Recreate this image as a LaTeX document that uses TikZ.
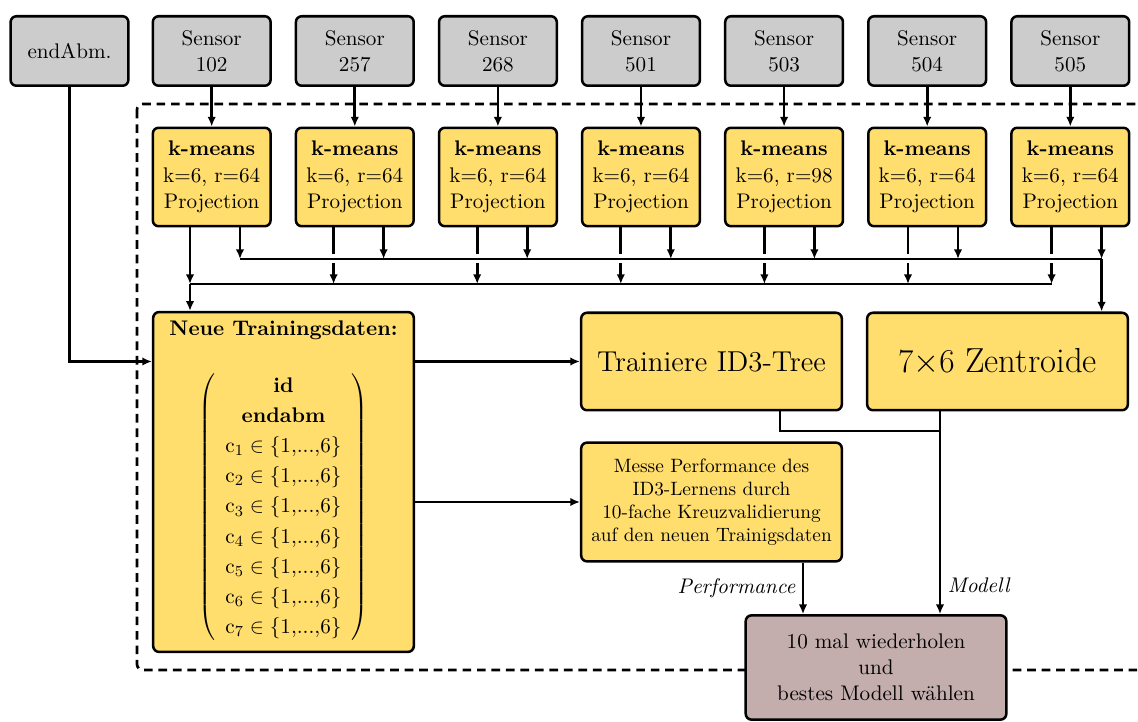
\documentclass[tikz,border=0pt]{standalone}
\usepackage{xcolor}
\usetikzlibrary{arrows.meta,calc}
\definecolor{boxYellow}{HTML}{FFDE6E}
\definecolor{sensorGray}{HTML}{CCCCCC}
\definecolor{loopRose}{HTML}{C4ADAD}
\newcommand{\basesize}{\fontsize{10.95}{13.6}\selectfont}

\begin{document}
\begin{tikzpicture}[
  x=0.518pt, y=-0.518pt,
  box/.style={draw, line width=1.3pt, rounded corners=3pt, align=center, inner sep=2pt, font=\basesize},
  sensorbox/.style={box, fill=sensorGray, minimum width=61pt, minimum height=36pt},
  kmbox/.style={box, fill=boxYellow, minimum width=61pt, minimum height=51pt},
  bigbox/.style={box, fill=boxYellow, minimum width=135pt},
  loopbox/.style={box, fill=loopRose, minimum width=135pt, minimum height=54pt},
  arr/.style={-{Latex[length=5pt,width=4.4pt]}, line width=1.4pt},
  bus/.style={line width=1.4pt},
  frame/.style={line width=1.4pt, dash pattern=on 4.5pt off 3pt, rounded corners=3pt}
]
\useasboundingbox (0,0) rectangle (1138,722);
\draw[frame] (137,104) rectangle (1170,670);

% inputs and clustering
\node[sensorbox] (ea) at (69.5,51) {endAbm.};
\foreach \sid/\rv [count=\i] in {102/64,257/64,268/64,501/64,503/98,504/64,505/64} {
  \pgfmathsetmacro\cx{211.7+143.1*(\i-1)}
  \pgfmathsetmacro\xl{190+143.6*(\i-1)}
  \pgfmathsetmacro\xr{240+143.6*(\i-1)}
  \node[sensorbox] (s\i) at (\cx,51) {Sensor\\\sid};
  \node[kmbox] (k\i) at (\cx,177) {\textbf{k-means}\\k=6, r=\rv\\Projection};
  \coordinate (lb\i) at (\xl,284);
  \coordinate (ub\i) at (\xr,259);
  \coordinate (cr\i) at (\xl,259);
  \draw[arr] (s\i) -- (k\i);
  \draw[arr] (k\i.south -| ub\i) -- (ub\i);
  \ifnum\i=1
    \draw[arr] (k\i.south -| lb\i) -- (lb\i);
  \else
    \draw[bus] (k\i.south -| lb\i) -- ($(cr\i)+(0,-4.5)$);
    \draw[arr] ($(cr\i)+(0,4.5)$) -- (lb\i);
  \fi
}
\draw[bus] (ub1) -- (ub7);
\draw[bus] (lb1) -- (lb7);

% learning
\node[bigbox, minimum height=176pt] (neue) at (283.5,482) {\textbf{Neue Trainingsdaten:}\\[15pt]
$\renewcommand{\arraystretch}{1.15}\left(\begin{array}{c}
\textbf{id}\\ \textbf{endabm}\\
\mathrm{c}_1\in\{1{,}...{,}6\}\\ \mathrm{c}_2\in\{1{,}...{,}6\}\\
\mathrm{c}_3\in\{1{,}...{,}6\}\\ \mathrm{c}_4\in\{1{,}...{,}6\}\\
\mathrm{c}_5\in\{1{,}...{,}6\}\\ \mathrm{c}_6\in\{1{,}...{,}6\}\\
\mathrm{c}_7\in\{1{,}...{,}6\}
\end{array}\right)$};
\node[bigbox, minimum height=50.5pt, font=\fontsize{14.9}{18}\selectfont] (tr) at (711.5,361.5) {Trainiere ID3-Tree};
\node[bigbox, minimum height=50.5pt, font=\fontsize{18}{22}\selectfont] (zt) at (997.5,361.5) {$7{\times}6$ Zentroide};
\node[bigbox, minimum height=61.5pt, font=\fontsize{10}{12}\selectfont] (ms) at (711.5,502) {Messe Performance des\\ID3-Lernens durch\\10-fache Kreuzvalidierung\\auf den neuen Trainigsdaten};
\node[loopbox] (fin) at (876,667.5) {10 mal wiederholen\\und\\bestes Modell wählen};

\draw[arr] (ub7) -- (zt.north -| ub7);
\draw[arr] (lb1) -- (neue.north -| lb1);
\draw[arr] (ea) |- (neue.west |- tr.west);
\draw[arr] (neue.east |- tr.west) -- (tr.west);
\draw[arr] (neue.east |- ms.west) -- (ms.west);

\coordinate (tj) at (780,431);
\coordinate (mj) at (940,431);
\coordinate (pj) at (803,590);
\draw[bus] (tr.south -| tj) -- (tj) -- (mj);
\draw[arr] (zt.south -| mj) -- node[right, pos=0.86, font=\basesize\itshape] {Modell} (fin.north -| mj);
\draw[arr] (ms.south -| pj) -- node[left, font=\basesize\itshape] {Performance} (fin.north -| pj);
\end{tikzpicture}
\end{document}
